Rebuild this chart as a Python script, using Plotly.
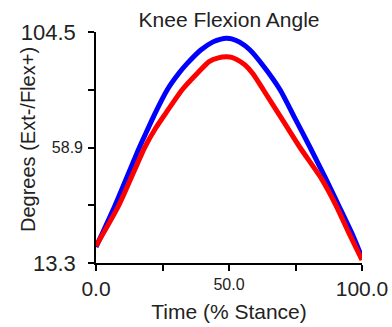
import plotly.graph_objects as go

# Data
blue_x = [0, 7.2, 16.3, 19.3, 21.8, 26.8, 31, 34.3, 39.4, 44, 47, 49, 51, 54, 57.9, 63, 69.2, 75, 80.5, 86.2, 91.2, 96, 100]
blue_y = [19.6, 36.1, 58.9, 65.8, 71.5, 81.7, 88.0, 92.1, 97.4, 100.6, 101.7, 102.0, 101.8, 100.5, 97.4, 91.0, 81.7, 70.0, 58.9, 47.0, 36.1, 25.5, 15.5]

red_x = [0, 8.6, 18.3, 22.4, 26.2, 32.4, 38.1, 42.5, 46, 49, 51, 53, 56, 59, 62.9, 70, 76.7, 84.8, 90.2, 95, 100]
red_y = [20.0, 36.1, 58.9, 66.5, 72.4, 81.7, 88.2, 92.8, 94.3, 94.7, 94.5, 93.6, 91.5, 88.0, 81.7, 70.0, 58.9, 46.5, 36.1, 25.3, 14.5]

x_tickvals = [0, 25, 50, 75, 100]
x_big_text = ["0.0", "", "", "", "100.0"]
x_small_vals = [50]
x_small_text = ["50.0"]

y_tickvals = [13.3, 36.1, 58.9, 81.7, 104.5]
y_big_text = ["13.3", "", "", "", "104.5"]
y_small_vals = [58.9]
y_small_text = ["58.9"]

title_text = "Knee Flexion Angle"
x_title = "Time (% Stance)"
y_title = "Degrees (Ext-/Flex+)"

FONT = "Liberation Sans, Arial, sans-serif"
INK = "#222222"

fig = go.Figure()
fig.add_trace(go.Scatter(x=blue_x, y=blue_y, mode="lines",
                         line=dict(color="#0000FF", width=5, shape="spline", smoothing=0.6),
                         showlegend=False, hoverinfo="skip"))
fig.add_trace(go.Scatter(x=red_x, y=red_y, mode="lines",
                         line=dict(color="#FF0000", width=5, shape="spline", smoothing=0.6),
                         showlegend=False, hoverinfo="skip"))
# invisible trace to activate secondary axes
fig.add_trace(go.Scatter(x=[None], y=[None], xaxis="x2", yaxis="y2", showlegend=False, hoverinfo="skip"))

fig.update_layout(
    width=392, height=327,
    margin=dict(l=96, r=30, t=32, b=64, pad=0),
    paper_bgcolor="white", plot_bgcolor="white",
    font=dict(family=FONT, color=INK),
    title=dict(text=title_text, font=dict(size=21, color=INK, family=FONT),
               x=0.5, xref="paper", xanchor="center",
               y=1 - 19.5 / 327, yref="container", yanchor="middle"),
    xaxis=dict(range=[0, 100], tickvals=x_tickvals, ticktext=x_big_text,
               ticks="outside", ticklen=6, tickwidth=1.5, tickcolor="black",
               showline=True, linewidth=1.5, linecolor="black",
               showgrid=False, zeroline=False, automargin=False,
               tickfont=dict(size=21, color=INK),
               title=dict(text=x_title, font=dict(size=21, color=INK), standoff=5)),
    xaxis2=dict(range=[0, 100], overlaying="x", matches="x", side="bottom",
                tickvals=x_small_vals, ticktext=x_small_text, ticks="",
                showline=False, showgrid=False, zeroline=False, automargin=False,
                tickfont=dict(size=16, color=INK), ticklabelstandoff=10),
    yaxis=dict(range=[13.3, 104.5], tickvals=y_tickvals, ticktext=y_big_text,
               ticks="outside", ticklen=6, tickwidth=1.5, tickcolor="black",
               showline=True, linewidth=1.5, linecolor="black",
               showgrid=False, zeroline=False, automargin=False,
               tickfont=dict(size=22, color=INK), ticklabelstandoff=8),
    yaxis2=dict(range=[13.3, 104.5], overlaying="y", matches="y", side="left",
                tickvals=y_small_vals, ticktext=y_small_text, ticks="",
                showline=False, showgrid=False, zeroline=False, automargin=False,
                tickfont=dict(size=16, color=INK), ticklabelstandoff=12),
    annotations=[dict(text=y_title, textangle=-90, showarrow=False,
                      xref="paper", yref="paper", x=(28 - 96) / 266, y=(263 - 140) / 231,
                      xanchor="center", yanchor="middle",
                      font=dict(size=20, color=INK, family=FONT))],
)

fig.write_html("out.html")
